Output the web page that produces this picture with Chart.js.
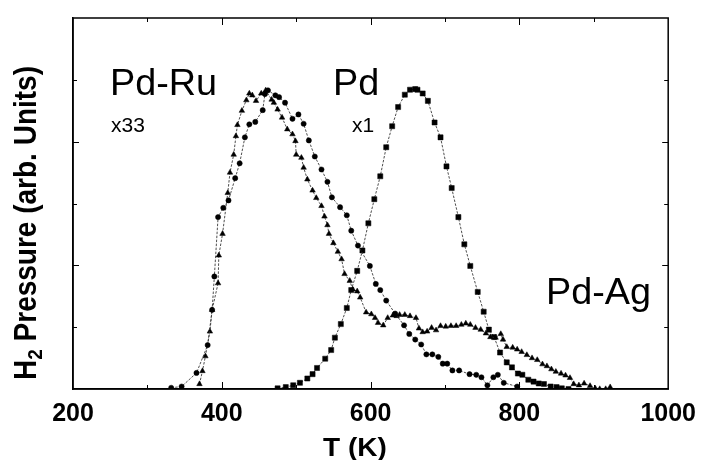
<!DOCTYPE html>
<html>
<head>
<meta charset="utf-8">
<script src="https://cdn.jsdelivr.net/npm/chart.js@4/dist/chart.umd.min.js"></script>
<style>
  html, body { margin: 0; padding: 0; background: #fff; }
  #wrap { width: 706px; height: 460px; }
</style>
</head>
<body>
<div id="wrap"><canvas id="tpd"></canvas></div>
<script>
// Thermal desorption of H2: temperature (K) and pressure (arb. units)
const tempPdRu = [332,346,366,381,387,390,395,402,409,418,424,431,437,445,455,458,462,472,477,485,495,503,510,517,525,534,542,548,559,568,574,583,599,607,613,621,633,645,652,660,668,675,683,691,697,703,710,719,733,742,749,757,765,771,779,797];
const pressPdRu = [0.02,0.04,0.26,0.71,1.28,1.82,2.78,2.93,3.05,3.41,3.65,4.07,4.28,4.32,4.51,4.77,4.83,4.75,4.72,4.63,4.37,4.44,4.29,4.02,3.76,3.55,3.35,3.10,2.94,2.81,2.56,2.32,1.99,1.70,1.60,1.43,1.22,1.03,0.89,0.80,0.72,0.56,0.56,0.52,0.41,0.41,0.30,0.30,0.24,0.23,0.19,0.06,0.19,0.23,0.10,0.04];

const tempPdAg = [370,374,378,384,387,395,396,401,408,411,416,419,421,427,433,437,441,446,453,459,467,470,475,481,488,495,499,500,507,510,515,522,527,534,538,542,544,550,556,561,565,572,576,582,586,594,601,606,610,617,623,630,635,639,646,653,661,665,670,676,682,688,694,701,708,715,722,728,734,741,748,755,761,768,775,778,783,791,797,803,810,817,824,831,837,843,849,856,862,868,873,880,887,895,902,908,916,922];
const pressPdAg = [0.08,0.29,0.53,0.93,1.28,1.71,2.16,2.51,3.17,3.50,3.79,4.09,4.27,4.50,4.67,4.78,4.75,4.66,4.78,4.83,4.68,4.63,4.52,4.39,4.20,4.12,4.01,3.79,3.74,3.58,3.39,3.21,3.09,2.96,2.79,2.65,2.51,2.36,2.22,2.10,1.86,1.75,1.61,1.58,1.48,1.24,1.21,1.15,1.07,1.03,1.15,1.19,1.18,1.20,1.20,1.18,1.15,0.98,0.92,0.93,0.99,0.95,1.02,1.01,1.02,1.02,1.04,1.06,1.04,0.99,0.96,0.90,0.84,0.83,0.89,0.80,0.68,0.67,0.64,0.60,0.55,0.50,0.47,0.40,0.37,0.32,0.28,0.25,0.22,0.18,0.08,0.06,0.09,0.05,0.01,0,0,0.03];

const tempPd = [475,486,496,505,515,522,528,539,547,552,560,568,574,582,589,597,605,613,621,629,637,646,653,660,663,670,677,686,694,702,709,718,726,734,744,752,759,766,774,783,790,798,804,812,819,826,833,842,850,857,866];
const pressPd = [0.01,0.03,0.06,0.10,0.17,0.24,0.34,0.49,0.63,0.83,1.05,1.31,1.60,1.91,2.24,2.68,3.07,3.44,3.91,4.25,4.56,4.76,4.84,4.85,4.84,4.78,4.66,4.31,4.07,3.60,3.25,2.78,2.34,1.99,1.57,1.25,0.96,0.84,0.59,0.43,0.35,0.25,0.23,0.15,0.12,0.09,0.08,0.04,0.03,0.01,0];

const xTickValues = [200, 400, 600, 800, 1000];
const curveLabels = [
  { text: 'Pd-Ru', x: 110, y: 95, size: 36 },
  { text: 'x33',   x: 111, y: 132, size: 20 },
  { text: 'Pd',    x: 333, y: 95, size: 36 },
  { text: 'x1',    x: 352, y: 132, size: 20 },
  { text: 'Pd-Ag', x: 546, y: 304, size: 36 }
];

const FONT = '"Liberation Sans", Arial, Helvetica, sans-serif';

function points(xs, ys) {
  return xs.map((x, i) => ({ x: x, y: ys[i] }));
}

function series(label, xs, ys, style, radius) {
  return {
    label: label,
    data: points(xs, ys),
    showLine: true,
    borderColor: '#3a3a3a',
    borderWidth: 0.9,
    borderDash: [2.5, 1.5],
    pointStyle: style,
    pointRadius: radius,
    pointBackgroundColor: '#000',
    pointBorderColor: '#000',
    pointBorderWidth: 0.5,
    tension: 0
  };
}

// Frame, inward ticks, axis titles and curve labels
const decorations = {
  id: 'decorations',
  afterDraw(chart) {
    const { ctx, chartArea: a, scales } = chart;
    const xs = scales.x, ys = scales.y;
    ctx.save();
    ctx.strokeStyle = '#000';
    ctx.lineWidth = 1.5;
    ctx.strokeRect(a.left, a.top, a.right - a.left, a.bottom - a.top);

    ctx.lineWidth = 1;
    [300, 400, 500, 600, 700, 800, 900].forEach(v => {
      const px = Math.round(xs.getPixelForValue(v)) + 0.5;
      const len = v % 200 === 0 ? 7 : 4;
      ctx.beginPath();
      ctx.moveTo(px, a.bottom); ctx.lineTo(px, a.bottom - len);
      ctx.moveTo(px, a.top); ctx.lineTo(px, a.top + len);
      ctx.stroke();
    });
    [1, 2, 3, 4, 5].forEach(v => {
      const py = Math.round(ys.getPixelForValue(v)) + 0.5;
      const len = v % 2 === 0 ? 6 : 4;
      ctx.beginPath();
      ctx.moveTo(a.left, py); ctx.lineTo(a.left + len, py);
      ctx.moveTo(a.right, py); ctx.lineTo(a.right - len, py);
      ctx.stroke();
    });

    ctx.fillStyle = '#000';
    ctx.textBaseline = 'alphabetic';
    curveLabels.forEach(l => {
      ctx.save();
      ctx.translate(l.x, l.y);
      ctx.scale(1.05, 1);
      ctx.font = l.size + 'px ' + FONT;
      ctx.textAlign = 'left';
      ctx.fillText(l.text, 0, 0);
      ctx.restore();
    });

    // x-axis title
    ctx.save();
    ctx.translate(355, 456);
    ctx.scale(1.12, 1);
    ctx.font = 'bold 25px ' + FONT;
    ctx.textAlign = 'center';
    ctx.fillText('T (K)', 0, 0);
    ctx.restore();

    // y-axis title with subscript 2
    ctx.save();
    ctx.translate(36, 223);
    ctx.rotate(-Math.PI / 2);
    ctx.scale(1, 1.1);
    const big = 'bold 28px ' + FONT, small = 'bold 19px ' + FONT;
    const p1 = 'H', p2 = '2', p3 = ' Pressure (arb. Units)';
    ctx.font = big; const w1 = ctx.measureText(p1).width, w3 = ctx.measureText(p3).width;
    ctx.font = small; const w2 = ctx.measureText(p2).width;
    const x0 = -(w1 + w2 + w3) / 2;
    ctx.textAlign = 'left';
    ctx.font = big; ctx.fillText(p1, x0, 0);
    ctx.font = small; ctx.fillText(p2, x0 + w1, 5);
    ctx.font = big; ctx.fillText(p3, x0 + w1 + w2, 0);
    ctx.restore();

    ctx.restore();
  }
};

new Chart(document.getElementById('tpd'), {
  type: 'line',
  data: {
    datasets: [
      series('Pd-Ru', tempPdRu, pressPdRu, 'circle', 2.6),
      series('Pd-Ag', tempPdAg, pressPdAg, 'triangle', 3.2),
      series('Pd', tempPd, pressPd, 'rect', 3.6)
    ]
  },
  options: {
    responsive: true,
    maintainAspectRatio: false,
    animation: false,
    layout: { padding: { left: 0, top: 18, right: 32, bottom: 0 } },
    plugins: { legend: { display: false }, tooltip: { enabled: false } },
    scales: {
      x: {
        type: 'linear',
        min: 200, max: 1000,
        afterBuildTicks(scale) { scale.ticks = xTickValues.map(v => ({ value: v })); },
        afterFit(scale) { scale.height = 71; },
        grid: { display: false, drawTicks: false },
        border: { display: true, color: '#000', width: 1.5 },
        ticks: {
          color: '#000',
          padding: 10,
          maxRotation: 0,
          callback: v => String(v),
          font: { family: FONT, size: 25, weight: 'bold' }
        }
      },
      y: {
        type: 'linear',
        min: 0, max: 6,
        afterFit(scale) { scale.width = 73; },
        grid: { display: false, drawTicks: false },
        border: { display: true, color: '#000', width: 1.5 },
        ticks: { display: false }
      }
    }
  },
  plugins: [decorations]
});
</script>
</body>
</html>
